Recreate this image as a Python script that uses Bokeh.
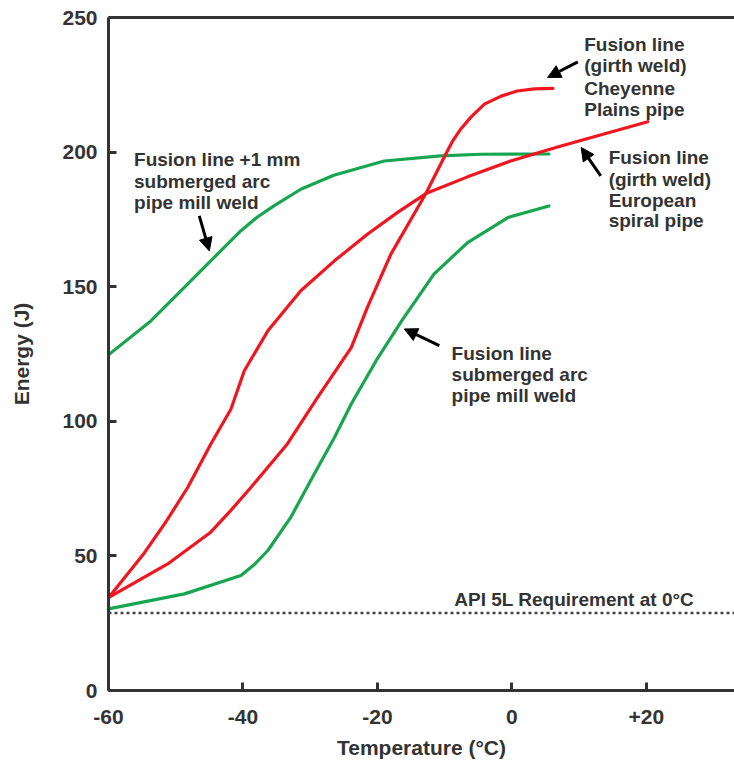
from bokeh.plotting import figure
from bokeh.models import LinearAxis, FixedTicker, Span, Arrow, NormalHead, Range1d, ColumnDataSource
from bokeh.core.properties import value
from bokeh.embed import file_html
from bokeh.resources import INLINE

# ---------------- data ----------------
# Fusion line +1 mm, submerged arc pipe mill weld (green, upper)
g1_temp = [-60, -53.7, -49.2, -44.8, -40.3, -37.8, -35.4, -31.4, -26.5, -19.0, -10.6, -4.6, 5.5]
g1_energy = [124.7, 137.3, 148.5, 159.6, 170.8, 176.0, 180.0, 186.2, 191.4, 196.7, 198.6, 199.2, 199.3]

# Fusion line, submerged arc pipe mill weld (green, lower)
g2_temp = [-60, -48.7, -40.3, -38.3, -36.3, -32.9, -29.4, -26.4, -23.9, -20.2, -16.4, -11.6, -6.6, -0.6, 5.5]
g2_energy = [30.3, 35.9, 42.7, 46.8, 52.0, 64.3, 80.4, 94.0, 106.4, 122.5, 137.3, 154.7, 166.4, 175.7, 180.0]

# Fusion line (girth weld) European spiral pipe (red)
eu_temp = [-60, -54.7, -51.5, -48.2, -44.8, -41.8, -39.8, -36.3, -31.4, -26.4, -21.5, -17.0, -12.8, -6.6, -0.2, 7.3, 20.2]
eu_energy = [34.5, 51.0, 62.5, 75.5, 91.5, 104.5, 118.8, 133.6, 148.5, 159.6, 169.5, 177.6, 184.6, 190.8, 196.7, 202.3, 211.3]

# Fusion line (girth weld) Cheyenne Plains pipe (red)
cp_temp = [-60, -51.2, -44.8, -41.8, -38.8, -33.4, -28.9, -23.9, -21.5, -18.0, -12.8, -10.1, -8.8, -7.6,
           -6.1, -4.1, -1.6, 0.8, 3.3, 6.1]
cp_energy = [34.5, 47.0, 58.8, 66.9, 75.5, 91.6, 108.9, 127.4, 142.3, 162.1, 184.6, 198.0, 204.2, 208.6,
             213.0, 217.8, 220.8, 222.7, 223.5, 223.7]

api_requirement = 28.8

x_ticks = [-60, -40, -20, 0, 20]
x_tick_labels = ["-60", "-40", "-20", "0", "+20"]
y_ticks = [0, 50, 100, 150, 200, 250]

GREEN = "#17a64f"
RED = "#f01620"
DARK = "#333333"
FONT = "Liberation Sans"

p = figure(width=734, height=765, x_range=Range1d(-60, 33.1), y_range=Range1d(0, 250),
           output_backend="svg", toolbar_location=None,
           min_border_left=108, min_border_right=0, min_border_top=17, min_border_bottom=75,
           x_axis_label="Temperature (\u00b0C)", y_axis_label="Energy (J)")
p.xgrid.visible = False
p.ygrid.visible = False
p.outline_line_color = None

p.xaxis.ticker = FixedTicker(ticks=x_ticks)
p.xaxis.major_label_overrides = dict(zip(x_ticks, x_tick_labels))
p.yaxis.ticker = FixedTicker(ticks=y_ticks)

for ax in (p.xaxis[0], p.yaxis[0]):
    ax.axis_line_width = 3
    ax.axis_line_color = DARK
    ax.major_tick_in = 8
    ax.major_tick_out = 0
    ax.major_tick_line_width = 3
    ax.major_tick_line_color = DARK
    ax.minor_tick_in = 0
    ax.minor_tick_out = 0
    ax.major_label_text_font = FONT
    ax.major_label_text_font_style = "bold"
    ax.major_label_text_font_size = "21px"
    ax.major_label_text_color = DARK
    ax.axis_label_text_font = FONT
    ax.axis_label_text_font_style = "bold"
    ax.axis_label_text_font_size = "21px"
    ax.axis_label_text_color = DARK

p.xaxis.major_label_standoff = 19
p.xaxis.axis_label_standoff = 9
p.yaxis.major_label_standoff = 11
p.yaxis.axis_label_standoff = 26

top_axis = LinearAxis(ticker=FixedTicker(ticks=[]), axis_line_width=3, axis_line_color=DARK,
                      major_tick_in=0, major_tick_out=0, minor_tick_in=0, minor_tick_out=0,
                      major_label_standoff=0)
p.add_layout(top_axis, "above")

# curves
for xs, ys, col in ((g1_temp, g1_energy, GREEN), (g2_temp, g2_energy, GREEN),
                    (eu_temp, eu_energy, RED), (cp_temp, cp_energy, RED)):
    p.line(xs, ys, line_color=col, line_width=3.2, line_join="round", line_cap="round")

# API requirement dotted line
p.add_layout(Span(location=api_requirement, dimension="width", line_color="#444444",
                  line_width=2.5, line_dash="3 3"))

# arrows
arrows = [
    (-46.5, 176.3, -45.0, 163.3),
    (9.8, 233.5, 5.3, 227.7),
    (13.2, 191.2, 10.3, 201.7),
    (-10.8, 128.1, -16.0, 134.3),
]
for xs, ys, xe, ye in arrows:
    p.add_layout(Arrow(end=NormalHead(size=13, fill_color="black", line_color="black"),
                       x_start=xs, y_start=ys, x_end=xe, y_end=ye,
                       line_width=3, line_color="black"))

# annotation texts
ann = ColumnDataSource(dict(
    x=[-56.2, -56.2, -56.2,
       10.75, 10.75, 10.75, 10.75,
       14.38, 14.38, 14.38, 14.38,
       -8.97, -8.97, -8.97,
       -8.58],
    y=[197.1, 189.0, 181.1,
       240.0, 232.0, 223.8, 216.0,
       197.9, 189.9, 181.9, 174.5,
       125.2, 117.3, 109.5,
       33.7],
    text=["Fusion line +1 mm", "submerged arc", "pipe mill weld",
          "Fusion line", "(girth weld)", "Cheyenne", "Plains pipe",
          "Fusion line", "(girth weld)", "European", "spiral pipe",
          "Fusion line", "submerged arc", "pipe mill weld",
          "API 5L Requirement at 0\u00b0C"],
))
p.text(x="x", y="y", text="text", source=ann, text_font=value(FONT), text_font_style="bold",
       text_font_size="19px", text_color=DARK, text_baseline="alphabetic", text_align="left")

open("out.html", "w").write(file_html(p, INLINE))
